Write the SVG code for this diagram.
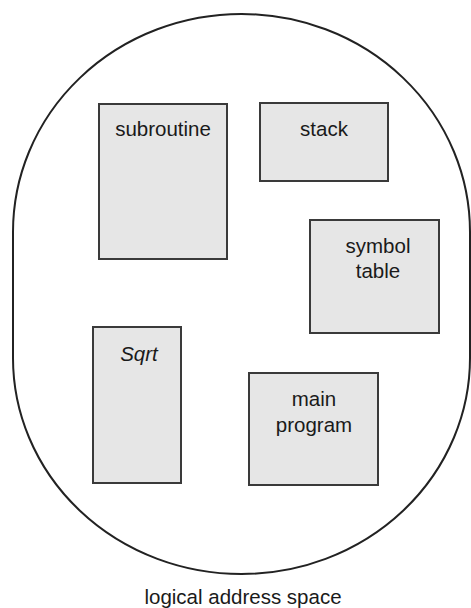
<svg xmlns="http://www.w3.org/2000/svg" width="471" height="608" viewBox="0 0 471 608">
<style>
.box{fill:#e6e6e6;stroke:#3a3a3a;stroke-width:2}
.lbl{font-family:"Liberation Sans",Arial,sans-serif;font-size:20.5px;fill:#1a1a1a;text-anchor:middle}
</style>
<rect width="471" height="608" fill="#ffffff"/>
<g id="space">
<path d="M 13,232 A 228.5,218 0 0 1 470,232 L 470,358 A 228.5,216 0 0 1 13,358 Z" fill="none" stroke="#222" stroke-width="2"/>
</g>
<g id="subroutine">
<rect class="box" x="99" y="104" width="128" height="155"/>
<text class="lbl" x="163" y="136">subroutine</text>
</g>
<g id="stack">
<rect class="box" x="260" y="103" width="128" height="78"/>
<text class="lbl" x="324" y="136">stack</text>
</g>
<g id="symbol-table">
<rect class="box" x="310" y="220" width="129" height="113"/>
<text class="lbl" x="378" y="253">symbol</text>
<text class="lbl" x="378" y="278">table</text>
</g>
<g id="sqrt">
<rect class="box" x="93" y="327" width="88" height="156"/>
<text class="lbl" x="139" y="361" font-style="italic">Sqrt</text>
</g>
<g id="main-program">
<rect class="box" x="249" y="373" width="129" height="112"/>
<text class="lbl" x="314" y="406">main</text>
<text class="lbl" x="314" y="432">program</text>
</g>
<g id="connectors"></g>
<text class="lbl" x="243" y="604">logical address space</text>
</svg>
